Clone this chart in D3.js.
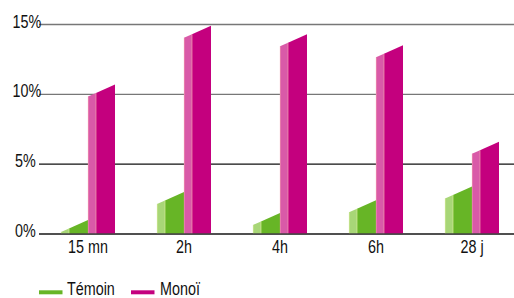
<!DOCTYPE html>
<html>
<head>
<meta charset="utf-8">
<script src="https://cdn.jsdelivr.net/npm/d3@7"></script>
<style>
  body { margin: 0; background: #fff; }
  svg text { font-family: "Liberation Sans", Arial, sans-serif; font-size: 17.5px; fill: #111; }
</style>
</head>
<body>
<svg id="chart" width="514" height="298"></svg>
<script>
// values (%)
const categories = ["15 mn", "2h", "4h", "6h", "28 j"]
const series = ["Témoin", "Monoï"]
const temoin = [0.4, 2.4, 0.9, 1.8, 2.8]
const monoi = [10.1, 14.3, 13.7, 12.9, 6.0]
const yTicks = [0, 5, 10, 15]

const colors = {
  "Témoin": {front: "#67b526", side: "#a8d677", edge: "#d8ec9c"},
  "Monoï": {front: "#c4007e", side: "#d95aa8", edge: "#f4a0b0"}
}

const svg = d3.select("#chart")
const width = 514
const narrow = 0.82 // squeeze text horizontally, the original uses a condensed face

let x = d3.scaleBand().domain(categories).range([40, 520])
let groupW = 54
let xSub = d3.scaleBand().domain(series).range([0, groupW])
let y = d3.scaleLinear().domain([0, 15]).range([234, 24.5])

const depth = 8      // width of the lighter side face
const rise = 8.5     // slant of the top of the front face
const drop = 3.5     // slant of the top of the side face

function place(px, py) { return "translate(" + px + "," + py + ") scale(" + narrow + ",1)" }

// gridlines
svg.append("g").selectAll("line")
  .data(yTicks)
  .enter().append("line")
    .attr("x1", 39).attr("x2", width)
    .attr("y1", d => y(d)).attr("y2", d => y(d))
    .attr("stroke", d => d == 5 ? "#111" : (d == 0 ? "#444" : "#777"))
    .attr("stroke-width", d => d == 0 ? 1.6 : 1.3)

// bars
let rows = []
categories.forEach((c, i) => {
  rows.push({cat: c, s: "Témoin", v: temoin[i]})
  rows.push({cat: c, s: "Monoï", v: monoi[i]})
})

let bars = svg.append("g").selectAll("g")
  .data(rows)
  .enter().append("g")
    .attr("transform", d => "translate(" + (x(d.cat) + (x.bandwidth() - groupW) / 2 + xSub(d.s)) + ",0)")

bars.each(function(d) {
  let g = d3.select(this)
  let w = xSub.bandwidth()
  let y0 = y(d.v), yb = y(0)
  // side face
  g.append("path")
    .attr("d", "M0," + yb + "L0," + Math.min(yb, y0 + drop) + "L" + depth + "," + y0 + "L" + depth + "," + yb + "Z")
    .attr("fill", colors[d.s].side)
  // front face
  g.append("path")
    .attr("d", "M" + depth + "," + yb + "L" + depth + "," + y0 + "L" + w + "," + (y0 - rise) + "L" + w + "," + yb + "Z")
    .attr("fill", colors[d.s].front)
  // thin light edges
  g.append("line")
    .attr("x1", depth).attr("x2", depth).attr("y1", y0).attr("y2", yb)
    .attr("stroke", colors[d.s].edge).attr("stroke-width", 0.7)
  g.append("line")
    .attr("x1", 0.3).attr("x2", 0.3).attr("y1", Math.min(yb, y0 + drop)).attr("y2", yb)
    .attr("stroke", colors[d.s].edge).attr("stroke-width", 0.6)
})

// baseline on top of bars
svg.append("line")
  .attr("x1", 39).attr("x2", width)
  .attr("y1", y(0)).attr("y2", y(0))
  .attr("stroke", "#444").attr("stroke-width", 1.6)

// y labels
svg.append("g").selectAll("text")
  .data(yTicks)
  .enter().append("text")
    .attr("transform", d => place(d >= 10 ? 12.5 : 15, y(d) + 3))
    .text(d => d + "%")

// category labels
svg.append("g").selectAll("text")
  .data(categories)
  .enter().append("text")
    .attr("transform", d => place(x(d) + x.bandwidth() / 2, 252.5))
    .attr("text-anchor", "middle")
    .text(d => d)

// legend
let legendX = [39, 131]
let legend = svg.append("g").selectAll("g")
  .data(series)
  .enter().append("g")
    .attr("transform", (d, i) => "translate(" + legendX[i] + ",0)")
legend.append("line")
  .attr("x1", 0).attr("x2", 23.5)
  .attr("y1", 292.3).attr("y2", 292.3)
  .attr("stroke", d => colors[d].front)
  .attr("stroke-width", 4)
legend.append("text")
  .attr("transform", (d, i) => place(i == 0 ? 28 : 29, 295))
  .text(d => d)
</script>
</body>
</html>
